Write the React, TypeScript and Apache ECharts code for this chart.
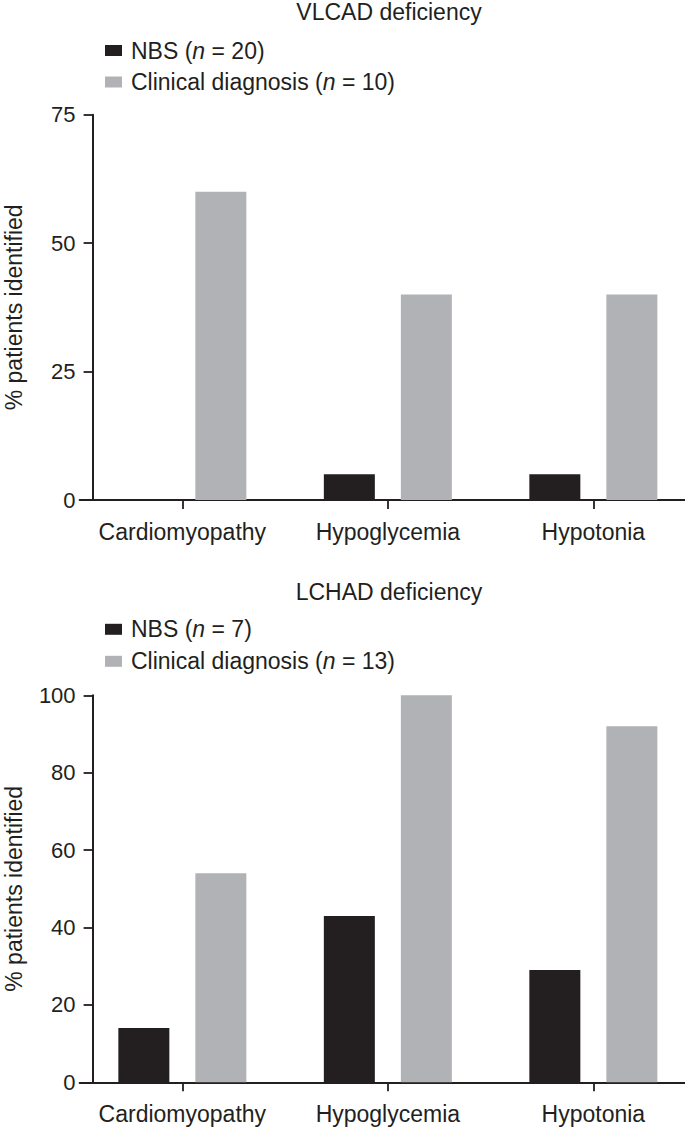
import React, { useEffect, useRef } from "react";
import * as echarts from "echarts";

const categories = ["Cardiomyopathy", "Hypoglycemia", "Hypotonia"];

const vlcadTitle = "VLCAD deficiency";
const vlcadNbsName = "NBS (n = 20)";
const vlcadClinName = "Clinical diagnosis (n = 10)";
const vlcadNbs = [0, 5, 5];
const vlcadClin = [60, 40, 40];
const vlcadTicks = { min: 0, max: 75, interval: 25 };

const lchadTitle = "LCHAD deficiency";
const lchadNbsName = "NBS (n = 7)";
const lchadClinName = "Clinical diagnosis (n = 13)";
const lchadNbs = [14, 43, 29];
const lchadClin = [54, 100, 92];
const lchadTicks = { min: 0, max: 100, interval: 20 };

const yAxisName = "% patients identified";

const INK = "#231f20";
const GREY = "#b1b2b5";
const FONT = '"Liberation Sans", Arial, Helvetica, sans-serif';

export default function App() {
  const ref = useRef<HTMLDivElement>(null);

  useEffect(() => {
    if (!ref.current) return;
    const chart = echarts.init(ref.current, undefined, { renderer: "svg" });

    const panels = [
      { title: vlcadTitle, nbsName: vlcadNbsName, clinName: vlcadClinName, nbs: vlcadNbs, clin: vlcadClin, ticks: vlcadTicks, titleTop: 0, legendTop: 39, gridTop: 114.7, gridH: 385.3, itemGap: 8.5 },
      { title: lchadTitle, nbsName: lchadNbsName, clinName: lchadClinName, nbs: lchadNbs, clin: lchadClin, ticks: lchadTicks, titleTop: 580.3, legendTop: 617.8, gridTop: 695.3, gridH: 387, itemGap: 9 },
    ];

    const legendFormatter = (name: string) => name.replace("(n =", "({it|n} =");

    const option: any = {
      animation: false,
      backgroundColor: "#ffffff",
      textStyle: { fontFamily: FONT, color: INK },
      title: panels.map((p) => ({
        text: p.title,
        left: 389,
        top: p.titleTop,
        textAlign: "center",
        padding: 0,
        textStyle: { fontFamily: FONT, fontSize: 23, fontWeight: "normal", color: INK, lineHeight: 23 },
      })),
      legend: panels.map((p) => ({
        data: [p.nbsName, p.clinName],
        orient: "vertical",
        left: 105,
        top: p.legendTop,
        padding: 0,
        itemGap: p.itemGap,
        itemWidth: 17,
        itemHeight: 11,
        icon: "rect",
        selectedMode: false,
        formatter: legendFormatter,
        textStyle: {
          fontFamily: FONT,
          fontSize: 23,
          lineHeight: 23,
          color: INK,
          padding: [0, 0, 0, 4],
          rich: {
            it: { fontFamily: FONT, fontSize: 23, lineHeight: 23, color: INK, fontStyle: "italic" },
          },
        },
      })),
      grid: panels.map((p) => ({
        left: 79.6,
        top: p.gridTop,
        width: 616.5,
        height: p.gridH,
        outerBoundsMode: "none",
        containLabel: false,
      })),
      xAxis: panels.map((p, i) => ({
        type: "category",
        gridIndex: i,
        data: categories,
        boundaryGap: true,
        axisLine: { show: true, lineStyle: { color: INK, width: 2 } },
        axisTick: { show: true, alignWithLabel: true, interval: 0, length: 9, lineStyle: { color: INK, width: 1.8 } },
        axisLabel: { interval: 0, hideOverlap: false, fontFamily: FONT, fontSize: 23, lineHeight: 23, color: INK, margin: 20 },
        splitLine: { show: false },
      })),
      yAxis: panels.map((p, i) => ({
        type: "value",
        gridIndex: i,
        min: p.ticks.min,
        max: p.ticks.max,
        interval: p.ticks.interval,
        offset: -13,
        name: yAxisName,
        nameLocation: "middle",
        nameGap: 67,
        nameTextStyle: { fontFamily: FONT, fontSize: 23, lineHeight: 23, color: INK },
        axisLine: { show: true, lineStyle: { color: INK, width: 2 } },
        axisTick: { show: true, length: 9, lineStyle: { color: INK, width: 1.8 } },
        axisLabel: { fontFamily: FONT, fontSize: 22, color: INK, margin: 17 },
        splitLine: { show: false },
      })),
      series: panels.flatMap((p, i) => [
        {
          type: "bar",
          name: p.nbsName,
          xAxisIndex: i,
          yAxisIndex: i,
          data: p.nbs,
          barWidth: 51,
          barGap: "51%",
          itemStyle: { color: INK },
        },
        {
          type: "bar",
          name: p.clinName,
          xAxisIndex: i,
          yAxisIndex: i,
          data: p.clin,
          barWidth: 51,
          barGap: "51%",
          itemStyle: { color: GREY },
        },
      ]),
    };

    chart.setOption(option);
    return () => chart.dispose();
  }, []);

  return (
    <div
      ref={ref}
      style={{ position: "fixed", left: 0, top: 0, width: 685, height: 1127, background: "#fff" }}
    />
  );
}
